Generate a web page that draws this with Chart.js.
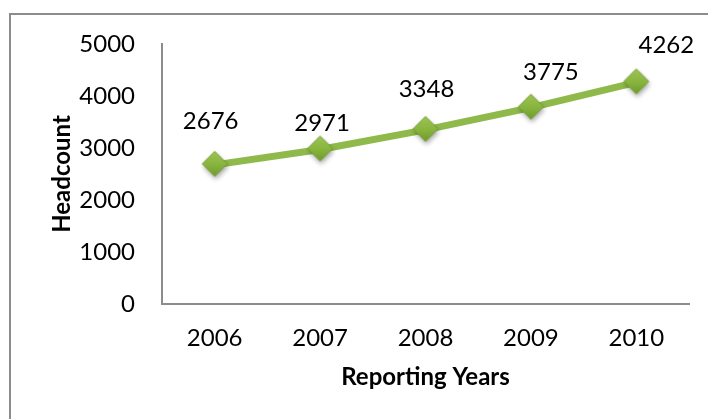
<!DOCTYPE html>
<html>
<head>
<meta charset="utf-8">
<script src="https://cdn.jsdelivr.net/npm/chart.js@4.4.3/dist/chart.umd.min.js"></script>
<style>
	html, body { margin: 0; padding: 0; background: #fff; }
	#wrap { position: relative; width: 708px; height: 419px; overflow: hidden; }
	#frame { position: absolute; left: 9px; top: 13px; width: 800px; height: 500px; border: 2px solid #8c8c8c; }
	#c { position: absolute; left: 0; top: 0; }
</style>
</head>
<body>
<div id="wrap">
	<div id="frame"></div>
	<canvas id="c" width="708" height="419"></canvas>
</div>
<script>
	// Chart data.
	var years     = ['2006', '2007', '2008', '2009', '2010'];
	var headcount = [2676, 2971, 3348, 3775, 4262];
	var yTicks    = [0, 1000, 2000, 3000, 4000, 5000];

	var FONT = 'Lato, "Open Sans", sans-serif';

	// Diamond marker with gradient and soft shadow, used as pointStyle image.
	function makeDiamond() {
		var size = 40, r = 12.5;
		var cv = document.createElement('canvas');
		cv.width = size; cv.height = size;
		var g = cv.getContext('2d');
		var cx = size / 2, cy = size / 2 - 1;
		g.shadowColor = 'rgba(0,0,0,0.35)';
		g.shadowBlur = 5;
		g.shadowOffsetX = 1;
		g.shadowOffsetY = 3;
		var grad = g.createLinearGradient(cx, cy - r, cx, cy + r);
		grad.addColorStop(0, '#9cc453');
		grad.addColorStop(0.5, '#8ab640');
		grad.addColorStop(1, '#6f9a2c');
		g.beginPath();
		g.moveTo(cx, cy - r);
		g.lineTo(cx + r, cy);
		g.lineTo(cx, cy + r);
		g.lineTo(cx - r, cy);
		g.closePath();
		g.fillStyle = grad;
		g.fill();
		g.shadowColor = 'transparent';
		g.strokeStyle = '#759f33';
		g.lineWidth = 1;
		g.stroke();
		return cv;
	}

	// Value labels above the points.
	var valueLabels = {
		id: 'valueLabels',
		afterDatasetsDraw: function (chart, args, opts) {
			var ctx = chart.ctx;
			var meta = chart.getDatasetMeta(0);
			ctx.save();
			ctx.font = '24px ' + FONT;
			ctx.fillStyle = '#000';
			ctx.textAlign = 'center';
			ctx.textBaseline = 'middle';
			meta.data.forEach(function (pt, i) {
				var off = opts.offsets[i] || [0, -38];
				ctx.fillText(String(headcount[i]), pt.x + off[0], pt.y + off[1]);
			});
			ctx.restore();
		}
	};

	new Chart(document.getElementById('c'), {
		type: 'line',
		data: {
			labels: years,
			datasets: [{
				data: headcount,
				borderColor: '#8fba4b',
				borderWidth: 7,
				tension: 0,
				pointStyle: makeDiamond(),
				pointRadius: 12,
				pointHoverRadius: 12
			}]
		},
		options: {
			responsive: false,
			animation: false,
			layout: { padding: { left: 0, right: 18, top: 44, bottom: 0 } },
			plugins: {
				legend: { display: false },
				tooltip: { enabled: false },
				valueLabels: {
					offsets: [[-4, -44], [2, -26], [1, -41], [20, -35], [30, -37]]
				}
			},
			scales: {
				x: {
					offset: true,
					grid: { display: false },
					border: { display: true, color: '#8c8c8c', width: 2 },
					ticks: { color: '#000', font: { family: FONT, size: 24 }, padding: 12 },
					title: {
						display: true,
						text: 'Reporting Years',
						color: '#000',
						font: { family: FONT, size: 24, weight: 'bold' },
						padding: { top: 0, bottom: 27 }
					},
					afterFit: function (s) { s.height = 115; }
				},
				y: {
					min: 0,
					max: 5000,
					afterBuildTicks: function (s) {
						s.ticks = yTicks.map(function (v) { return { value: v }; });
					},
					grid: { display: false },
					border: { display: true, color: '#8c8c8c', width: 2 },
					ticks: {
						color: '#000',
						font: { family: FONT, size: 24 },
						padding: 19,
						callback: function (v) { return String(v); }
					},
					title: {
						display: true,
						text: 'Headcount',
						color: '#000',
						font: { family: FONT, size: 24, weight: 'bold' },
						padding: { top: 48, bottom: 0 }
					},
					afterFit: function (s) { s.width = 162; }
				}
			}
		},
		plugins: [valueLabels]
	});
</script>
</body>
</html>
